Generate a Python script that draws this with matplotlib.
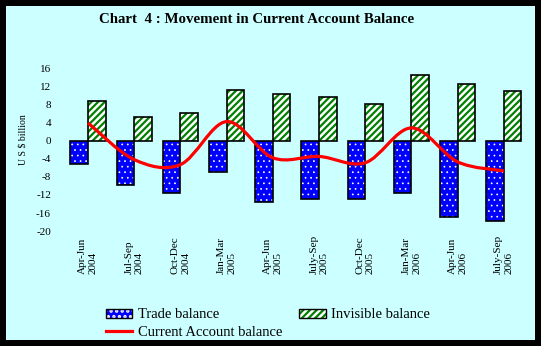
import matplotlib.pyplot as plt
import numpy as np
from matplotlib.path import Path
from matplotlib.patches import PathPatch, Patch
from matplotlib.lines import Line2D

plt.rcParams['font.family'] = ['Liberation Serif', 'DejaVu Serif']
plt.rcParams['axes.unicode_minus'] = False

# data (US $ billion)
quarters = ["Apr-Jun\n2004", "Jul-Sep\n2004", "Oct-Dec\n2004", "Jan-Mar\n2005",
            "Apr-Jun\n2005", "July-Sep\n2005", "Oct-Dec\n2005", "Jan-Mar\n2006",
            "Apr-Jun\n2006", "July-Sep\n2006"]
trade = [-5.1, -9.7, -11.6, -7.0, -13.6, -13.0, -12.8, -11.6, -16.9, -17.8]
invisible = [8.7, 5.3, 6.2, 11.2, 10.3, 9.7, 8.1, 14.5, 12.5, 11.0]
current_account = [3.9, -4.2, -5.3, 4.2, -3.8, -3.5, -4.9, 2.8, -4.7, -6.7]

bg = '#CCFFFF'
blue = '#0000FF'
green = '#008000'

fig = plt.figure(figsize=(5.41, 3.46), dpi=100)
fig.patch.set_facecolor(bg)
fig.patch.set_edgecolor('black')
fig.patch.set_linewidth(7.5)

ax = fig.add_axes([0.12, 0.332, 0.854, 0.471])
ax.set_facecolor(bg)

x = np.arange(len(quarters))
w = 0.38

# trade balance: blue with white dots, black outline
plt.rcParams['hatch.linewidth'] = 0.5
ax.bar(x - w / 2, trade, w, color=blue, edgecolor='white', hatch='...', linewidth=0, zorder=2)
h_trade_fill = Patch(facecolor=blue, edgecolor='white', hatch='...', linewidth=0)
ax.bar(x - w / 2, trade, w, color='none', edgecolor='black', linewidth=1.2, zorder=3)
# invisibles: green diagonal stripes
plt.rcParams['hatch.linewidth'] = 1.6
ax.bar(x + w / 2, invisible, w, color='white', edgecolor=green, hatch='/////', linewidth=0, zorder=2)
h_inv_fill = Patch(facecolor='white', edgecolor=green, hatch='/////', linewidth=0)
ax.bar(x + w / 2, invisible, w, color='none', edgecolor='black', linewidth=1.2, zorder=3)

# smoothed current account line (catmull-rom as bezier path)
pts = np.column_stack([x, current_account]).astype(float)
verts = [pts[0]]
codes = [Path.MOVETO]
n = len(pts)
for i in range(n - 1):
    p0 = pts[max(i - 1, 0)]
    p1 = pts[i]
    p2 = pts[i + 1]
    p3 = pts[min(i + 2, n - 1)]
    c1 = p1 + (p2 - p0) / 6
    c2 = p2 - (p3 - p1) / 6
    verts += [c1, c2, p2]
    codes += [Path.CURVE4] * 3
ax.add_patch(PathPatch(Path(verts, codes), facecolor='none', edgecolor='red', lw=2.3, zorder=4))

ax.set_xlim(-0.5, len(quarters) - 0.5)
ax.set_ylim(-20, 16)
ax.set_yticks(np.arange(-20, 17, 4))
ax.tick_params(axis='y', length=0, labelsize=8, pad=10)
ax.set_xticks(x)
ax.set_xticklabels(quarters, rotation=90, va='bottom', ha='center', multialignment='left', fontsize=8)
ax.tick_params(axis='x', length=0, pad=31)
for s in ax.spines.values():
    s.set_visible(False)

ax.set_ylabel("U S $ billion", fontsize=7)
ax.yaxis.set_label_coords(-0.082, 0.564)

fig.text(0.475, 0.945, "Chart  4 : Movement in Current Account Balance",
         ha='center', va='center', fontsize=10.7, fontweight='bold')

h_trade = (h_trade_fill, Patch(facecolor='none', edgecolor='black', linewidth=1))
h_inv = (h_inv_fill, Patch(facecolor='none', edgecolor='black', linewidth=1))
h_cab = Line2D([], [], color='red', lw=2.3)
fig.legend([h_trade, h_cab, h_inv], ["Trade balance", "Current Account balance", "Invisible balance"],
           ncol=2, loc='upper left', bbox_to_anchor=(0.196, 0.109), frameon=False,
           fontsize=10.5, handlelength=1.8, handleheight=0.55, columnspacing=1.15,
           handletextpad=0.4, labelspacing=0.3, borderpad=0, borderaxespad=0)

fig.savefig('out.png', dpi=100, facecolor=fig.get_facecolor(), edgecolor=fig.get_edgecolor())
